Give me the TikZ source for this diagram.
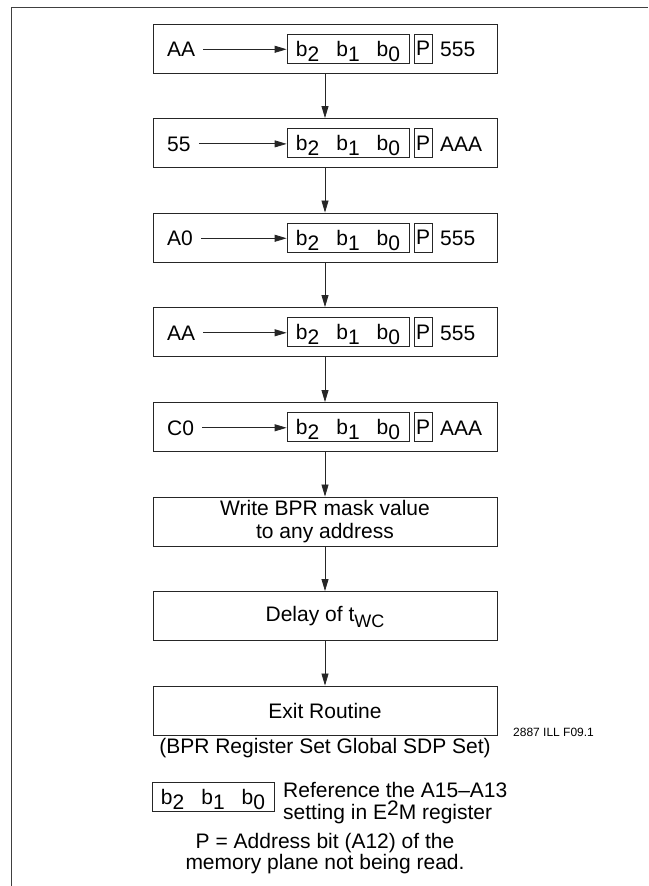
\documentclass[tikz,border=0pt]{standalone}
\usepackage{fontspec}
\setmainfont{Liberation Sans}
\usetikzlibrary{arrows.meta}
\newcommand{\lo}[1]{\raisebox{-5pt}[0pt][0pt]{#1}}
\newcommand{\bitfield}{b\lo{2}\hspace{17pt}b\lo{1}\hspace{17pt}b\lo{0}}
\begin{document}
\begin{tikzpicture}[x=1pt,y=-1pt,
    every node/.style={font=\fontsize{21}{23}\selectfont},
    stepbox/.style={draw=black!85,line width=0.9pt,minimum width=344pt,minimum height=49pt,align=center,inner sep=0pt},
    bitbox/.style={draw=black!85,line width=0.8pt,minimum width=122pt,minimum height=29pt,inner sep=0pt},
    pbox/.style={draw=black!85,line width=0.8pt,minimum width=18pt,minimum height=29pt,inner sep=0pt},
    txt/.style={anchor=base west,inner sep=0pt},
    flow/.style={draw=black!85,line width=0.8pt,-{Triangle[length=12pt,width=7pt]}}]
\useasboundingbox (0,0) rectangle (648,886);

\draw[line width=1.5pt,black!75] (11.5,886) -- (11.5,7.5) -- (648,7.5);

\node (cmd1) at (325,48.5) [stepbox] {};
\node (dat1) at (167,56.5) [txt] {AA};
\node (bits1) at (348,48.5) [bitbox] {\bitfield};
\node (pb1) at (423,48.5) [pbox] {P};
\node (adr1) at (440,56.5) [txt] {555};

\node (cmd2) at (325,143) [stepbox] {};
\node (dat2) at (167,151) [txt] {55};
\node (bits2) at (348,143) [bitbox] {\bitfield};
\node (pb2) at (423,143) [pbox] {P};
\node (adr2) at (440,151) [txt] {AAA};

\node (cmd3) at (325,237.5) [stepbox] {};
\node (dat3) at (167,245.5) [txt] {A0};
\node (bits3) at (348,237.5) [bitbox] {\bitfield};
\node (pb3) at (423,237.5) [pbox] {P};
\node (adr3) at (440,245.5) [txt] {555};

\node (cmd4) at (325,332) [stepbox] {};
\node (dat4) at (167,340) [txt] {AA};
\node (bits4) at (348,332) [bitbox] {\bitfield};
\node (pb4) at (423,332) [pbox] {P};
\node (adr4) at (440,340) [txt] {555};

\node (cmd5) at (325,427) [stepbox] {};
\node (dat5) at (167,435) [txt] {C0};
\node (bits5) at (348,427) [bitbox] {\bitfield};
\node (pb5) at (423,427) [pbox] {P};
\node (adr5) at (440,435) [txt] {AAA};

\node (mask) at (325,521.5) [stepbox] {Write BPR mask value\\to any address};
\node (delay) at (325,616) [stepbox] {Delay of t\raisebox{-6pt}[0pt][0pt]{\fontsize{18}{18}\selectfont WC}};
\node (exit) at (325,710.5) [stepbox] {Exit Routine};

\draw[flow,shorten <=8pt] (dat1.east) -- (bits1.west |- dat1.east);
\draw[flow,shorten <=8pt] (dat2.east) -- (bits2.west |- dat2.east);
\draw[flow,shorten <=8pt] (dat3.east) -- (bits3.west |- dat3.east);
\draw[flow,shorten <=8pt] (dat4.east) -- (bits4.west |- dat4.east);
\draw[flow,shorten <=8pt] (dat5.east) -- (bits5.west |- dat5.east);

\draw[flow] (cmd1) -- (cmd2);
\draw[flow] (cmd2) -- (cmd3);
\draw[flow] (cmd3) -- (cmd4);
\draw[flow] (cmd4) -- (cmd5);
\draw[flow] (cmd5) -- (mask);
\draw[flow] (mask) -- (delay);
\draw[flow] (delay) -- (exit);

\node (fig) at (513,736) [txt,font=\fontsize{12}{14}\selectfont] {2887 ILL F09.1};
\node (title) at (325,753) [anchor=base,inner sep=0pt] {(BPR Register Set Global SDP Set)};

% legend
\node (key) at (213,796.5) [bitbox] {\bitfield};
\node (keytext) at (283,819) [txt,align=left,font=\fontsize{21}{21.5}\selectfont] {Reference the A15--A13\\setting in E\raisebox{4pt}[0pt][0pt]{2}M register};
\node (pnote) at (325,869) [anchor=base,inner sep=0pt,align=center,font=\fontsize{21}{21}\selectfont] {P = Address bit (A12) of the\\memory plane not being read.};
\end{tikzpicture}
\end{document}
